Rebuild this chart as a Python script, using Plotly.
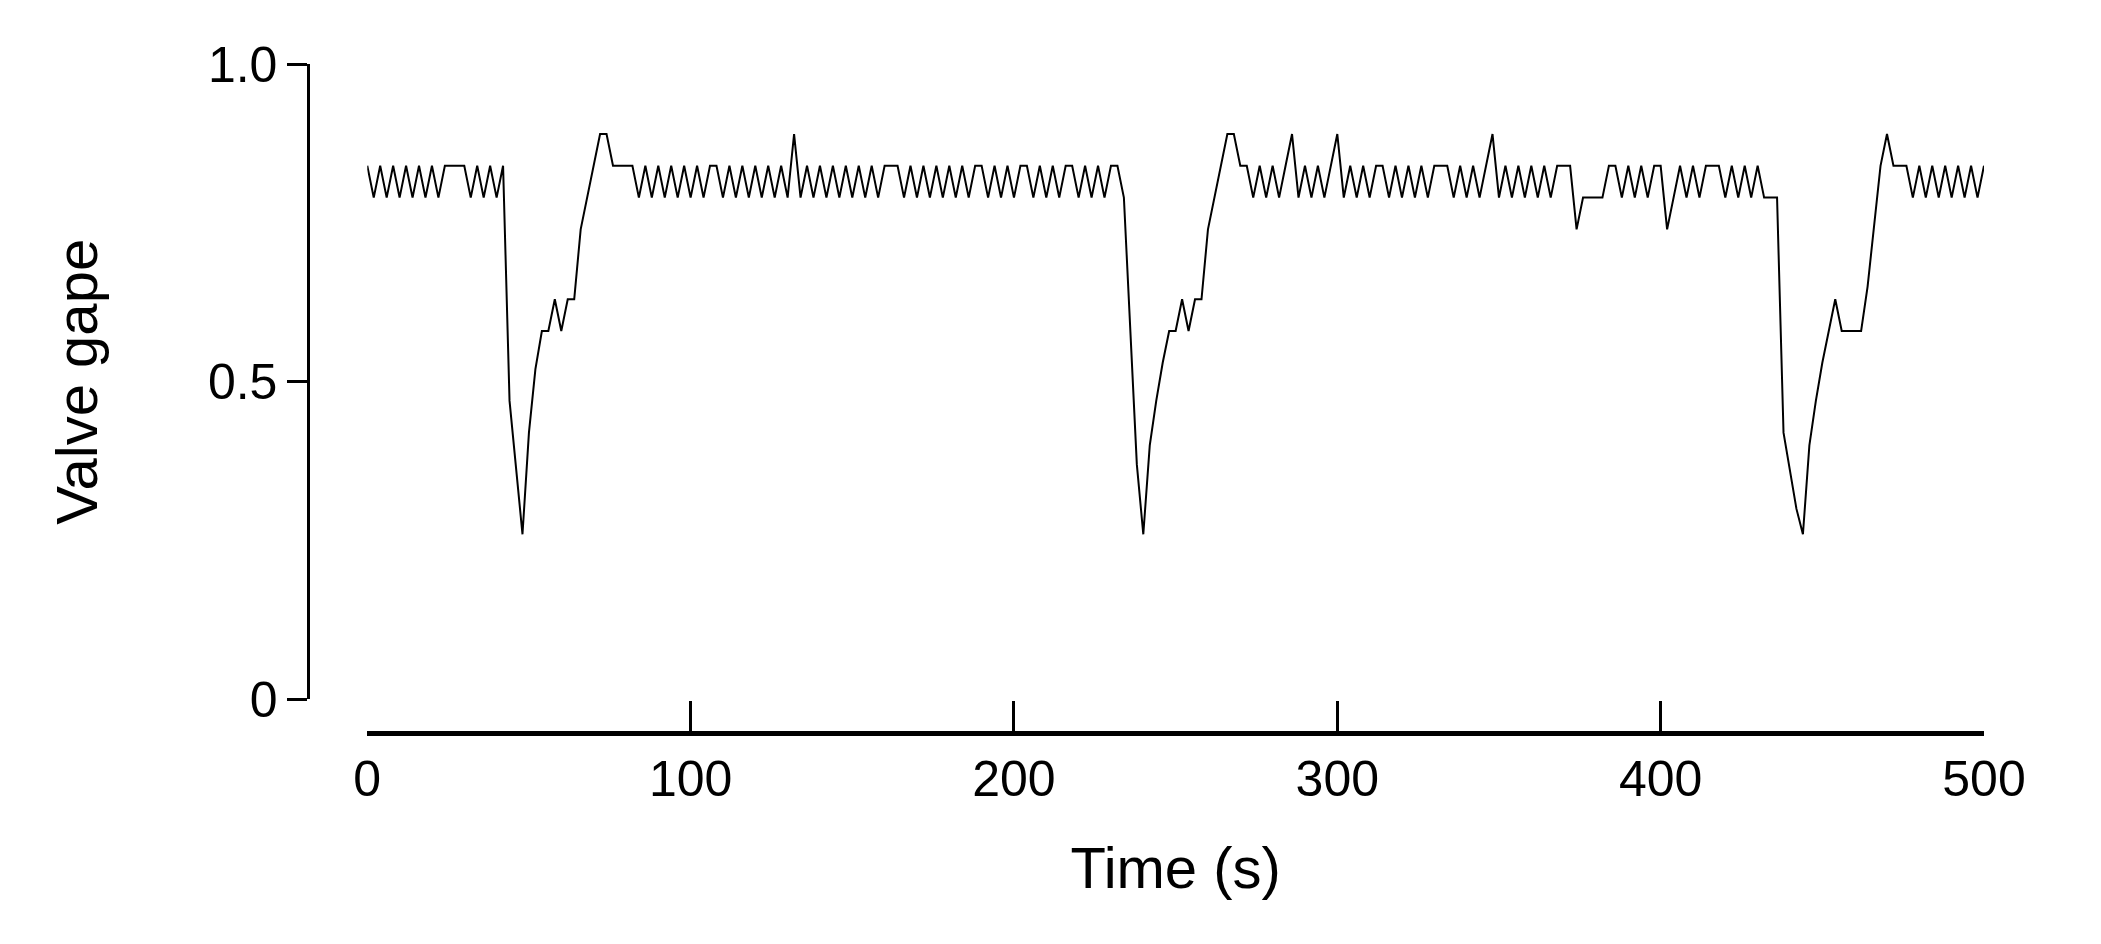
import plotly.graph_objects as go

# time in seconds, sampled every 2 s
time_s = list(range(0, 502, 2))

# valve gape
gape = [
    # 0 - 40
    0.84, 0.79, 0.84, 0.79, 0.84, 0.79, 0.84, 0.79, 0.84, 0.79,
    0.84, 0.79, 0.84, 0.84, 0.84, 0.84, 0.79, 0.84, 0.79, 0.84, 0.79,
    # 42 - 82 : first closure
    0.84, 0.47, 0.36, 0.26, 0.42, 0.52, 0.58, 0.58, 0.63, 0.58,
    0.63, 0.63, 0.74, 0.79, 0.84, 0.89, 0.89, 0.84, 0.84, 0.84, 0.84,
    # 84 - 232
    0.79, 0.84, 0.79, 0.84, 0.79, 0.84, 0.79, 0.84, 0.79, 0.84,
    0.79, 0.84, 0.84, 0.79, 0.84, 0.79, 0.84, 0.79, 0.84, 0.79,
    0.84, 0.79, 0.84, 0.79, 0.89, 0.79, 0.84, 0.79, 0.84, 0.79,
    0.84, 0.79, 0.84, 0.79, 0.84, 0.79, 0.84, 0.79, 0.84, 0.84,
    0.84, 0.79, 0.84, 0.79, 0.84, 0.79, 0.84, 0.79, 0.84, 0.79,
    0.84, 0.79, 0.84, 0.84, 0.79, 0.84, 0.79, 0.84, 0.79, 0.84,
    0.84, 0.79, 0.84, 0.79, 0.84, 0.79, 0.84, 0.84, 0.79, 0.84,
    0.79, 0.84, 0.79, 0.84, 0.84,
    # 234 - 272 : second closure
    0.79, 0.58, 0.37, 0.26, 0.40, 0.47, 0.53, 0.58, 0.58, 0.63,
    0.58, 0.63, 0.63, 0.74, 0.79, 0.84, 0.89, 0.89, 0.84, 0.84,
    # 274 - 434
    0.79, 0.84, 0.79, 0.84, 0.79, 0.84, 0.89, 0.79, 0.84, 0.79,
    0.84, 0.79, 0.84, 0.89, 0.79, 0.84, 0.79, 0.84, 0.79, 0.84,
    0.84, 0.79, 0.84, 0.79, 0.84, 0.79, 0.84, 0.79, 0.84, 0.84,
    0.84, 0.79, 0.84, 0.79, 0.84, 0.79, 0.84, 0.89, 0.79, 0.84,
    0.79, 0.84, 0.79, 0.84, 0.79, 0.84, 0.79, 0.84, 0.84, 0.84,
    0.74, 0.79, 0.79, 0.79, 0.79, 0.84, 0.84, 0.79, 0.84, 0.79,
    0.84, 0.79, 0.84, 0.84, 0.74, 0.79, 0.84, 0.79, 0.84, 0.79,
    0.84, 0.84, 0.84, 0.79, 0.84, 0.79, 0.84, 0.79, 0.84, 0.79,
    0.79,
    # 436 - 476 : third closure
    0.79, 0.42, 0.36, 0.30, 0.26, 0.40, 0.47, 0.53, 0.58, 0.63,
    0.58, 0.58, 0.58, 0.58, 0.65, 0.74, 0.84, 0.89, 0.84, 0.84, 0.84,
    # 478 - 500
    0.79, 0.84, 0.79, 0.84, 0.79, 0.84, 0.79, 0.84, 0.79, 0.84,
    0.79, 0.84,
]
n = min(len(time_s), len(gape))
time_s, gape = time_s[:n], gape[:n]

x_ticks = [0, 100, 200, 300, 400, 500]
y_ticks = [0, 0.5, 1.0]
y_labels = ["0", "0.5", "1.0"]

fig = go.Figure(go.Scatter(x=time_s, y=gape, mode="lines",
                           line=dict(color="black", width=2), showlegend=False))

font = dict(family="Liberation Sans, Arial", color="black")
fig.update_layout(
    width=2101, height=944,
    paper_bgcolor="white", plot_bgcolor="white",
    margin=dict(l=0, r=0, t=0, b=0),
    font=dict(size=50, **font),
    xaxis=dict(
        domain=[0.171, 0.9405], range=[0, 500], anchor="free", position=0.2315,
        tickvals=x_ticks, showline=True, linewidth=5, linecolor="black",
        ticks="inside", ticklen=30, tickwidth=3, tickcolor="black",
        showgrid=False, zeroline=False, automargin=False,
        title=dict(text="Time (s)", font=dict(size=58), standoff=40),
    ),
    yaxis=dict(
        domain=[0.2675, 0.9405], range=[0, 1], anchor="free", position=0.143,
        tickvals=y_ticks, ticktext=y_labels, showline=True, linewidth=3,
        linecolor="black", ticks="outside", ticklen=20, tickwidth=3,
        tickcolor="black", showgrid=False, zeroline=False, automargin=False,
        title=dict(text="Valve gape", font=dict(size=58), standoff=90),
    ),
)

fig.write_html("out.html")
